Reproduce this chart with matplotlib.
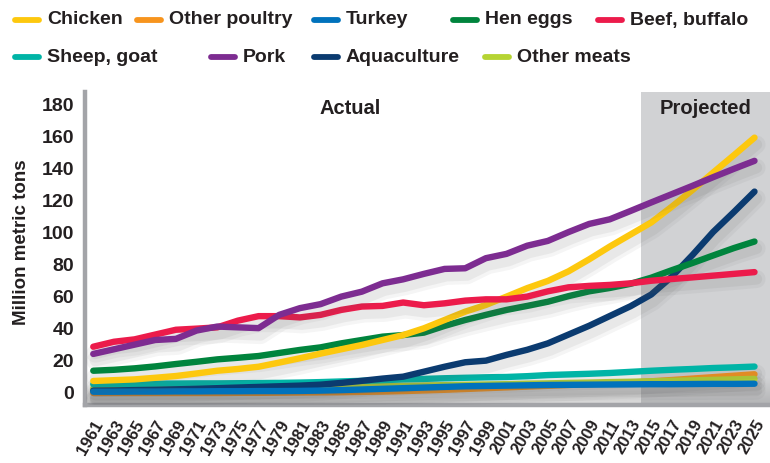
import numpy as np
import matplotlib
matplotlib.use("Agg")
import matplotlib.pyplot as plt
import matplotlib.patheffects as pe
from matplotlib.lines import Line2D

# Production by commodity, million metric tons (odd years, 2015 on projected)
years = list(range(1961, 2026, 2))
chicken = [7.5, 8.0, 8.5, 9.5, 10.6, 12.2, 13.9, 15.0, 16.4, 19.0, 21.7, 24.6, 27.3, 30.0, 33.1, 36.2, 40.4,
           45.6, 50.8, 55.0, 60.2, 65.5, 70.0, 76.0, 83.5, 91.5, 99.0, 106.5, 116.4, 126.8, 137.7, 148.5, 159.5]
other_poultry = [0.0, 0.0, 0.0, 0.0, 0.0, 0.0, 0.0, 0.1, 0.1, 0.2, 0.3, 0.4, 0.5, 0.7, 0.9, 1.2, 1.6,
                 2.0, 2.5, 3.0, 3.5, 4.0, 4.5, 5.0, 5.5, 6.0, 6.5, 7.3, 8.1, 9.0, 9.9, 10.8, 11.7]
turkey = [0.8, 0.8, 0.9, 0.9, 1.0, 1.0, 1.1, 1.1, 1.2, 1.2, 1.3, 1.5, 1.8, 2.2, 2.6, 3.0, 3.4,
          3.8, 4.2, 4.4, 4.6, 4.8, 5.0, 5.1, 5.2, 5.3, 5.4, 5.5, 5.5, 5.6, 5.7, 5.7, 5.8]
hen_eggs = [13.9, 14.5, 15.4, 16.6, 18.1, 19.5, 21.0, 22.0, 23.1, 25.0, 26.9, 28.5, 31.0, 33.1, 35.2, 36.2, 37.7,
            41.9, 45.6, 48.8, 51.9, 54.4, 57.0, 60.5, 63.5, 65.6, 68.2, 72.0, 76.7, 81.2, 85.9, 90.5, 94.6]
beef = [28.9, 32.0, 33.5, 36.5, 39.5, 40.2, 41.0, 45.2, 48.0, 48.0, 47.2, 48.8, 51.9, 54.0, 54.4, 56.5, 54.8,
        56.0, 57.7, 58.5, 58.5, 60.2, 63.5, 66.0, 66.9, 67.5, 68.5, 70.1, 71.2, 72.2, 73.3, 74.4, 75.5]
sheep_goat = [5.5, 5.6, 5.7, 5.8, 5.9, 6.0, 6.0, 6.1, 6.2, 6.3, 6.5, 6.8, 7.2, 7.6, 8.0, 8.5, 8.8,
              9.2, 9.5, 9.8, 10.0, 10.5, 11.2, 11.6, 12.0, 12.5, 13.2, 13.9, 14.5, 15.0, 15.6, 16.0, 16.5]
pork = [24.4, 27.3, 30.2, 33.1, 33.8, 39.0, 41.5, 41.0, 40.5, 48.8, 53.0, 55.5, 60.2, 63.3, 68.5, 71.0, 74.4,
        77.5, 77.9, 84.2, 86.9, 92.0, 95.0, 100.5, 105.6, 108.5, 113.7, 119.0, 124.2, 129.4, 134.8, 140.0, 145.0]
aquaculture = [1.5, 1.6, 1.8, 2.0, 2.3, 2.6, 3.0, 3.4, 3.8, 4.2, 4.6, 5.2, 6.3, 7.6, 9.0, 10.2, 13.3,
               16.4, 19.2, 20.2, 23.8, 27.0, 31.0, 36.5, 42.0, 48.1, 54.2, 61.5, 72.7, 86.2, 100.6, 113.0, 125.8]
other_meats = [3.0, 3.0, 3.1, 3.2, 3.2, 3.3, 3.4, 3.5, 3.6, 3.7, 3.8, 3.9, 4.0, 4.2, 4.4, 4.5, 4.7,
               4.9, 5.1, 5.3, 5.5, 5.8, 6.0, 6.3, 6.5, 6.8, 7.0, 7.3, 7.6, 7.9, 8.2, 8.5, 8.8]

series = {
    "Chicken": (chicken, "#fdc80e"),
    "Other poultry": (other_poultry, "#f7941d"),
    "Turkey": (turkey, "#0072bc"),
    "Hen eggs": (hen_eggs, "#00843d"),
    "Beef, buffalo": (beef, "#ec1b4b"),
    "Sheep, goat": (sheep_goat, "#00b4a6"),
    "Pork": (pork, "#7d2c91"),
    "Aquaculture": (aquaculture, "#0b3b70"),
    "Other meats": (other_meats, "#b6d433"),
}
draw_order = ["Other poultry", "Other meats", "Sheep, goat", "Aquaculture", "Turkey",
              "Hen eggs", "Chicken", "Beef, buffalo", "Pork"]

font = ["Liberation Sans", "DejaVu Sans"]
ink = "#231f20"

fig = plt.figure(figsize=(7.7, 4.63), dpi=100)
ax = fig.add_axes([85 / 770, 58 / 463, 685 / 770, 313 / 463])
ax.set_xlim(1960.2, 2026.5)
ax.set_ylim(-7.5, 188)

# projected period
ax.axvspan(2014, 2026.5, color="#d1d2d4", zorder=0, lw=0)

# soft shading along the floor of the plot
grad = np.linspace(0.32, 0, 64).reshape(-1, 1)
ax.imshow(np.dstack([np.full_like(grad, 0.45)] * 3 + [grad]), extent=[1960.2, 2026.5, -7.5, 9],
          origin="lower", aspect="auto", zorder=0.5, interpolation="bilinear")

shadow = [pe.SimpleLineShadow(offset=(1.5, -5), shadow_color="0.35", alpha=0.06, linewidth=13),
          pe.SimpleLineShadow(offset=(1.5, -5), shadow_color="0.35", alpha=0.08, linewidth=8),
          pe.Normal()]
for name in draw_order:
    vals, col = series[name]
    ax.plot(years, vals, color=col, lw=4.6, solid_capstyle="round", solid_joinstyle="round",
            path_effects=shadow, zorder=3)

for side in ["top", "right"]:
    ax.spines[side].set_visible(False)
for side in ["left", "bottom"]:
    ax.spines[side].set_color("#a3a4a8")
    ax.spines[side].set_linewidth(3.2)

ax.set_yticks(range(0, 181, 20))
ax.set_yticklabels([str(v) for v in range(0, 181, 20)], family=font, fontweight="bold",
                   fontsize=14, color=ink)
ax.set_xticks(years)
ax.set_xticklabels([str(y) for y in years], rotation=60, ha="right", va="top",
                   rotation_mode="anchor", family=font, fontweight="bold", fontsize=12, color=ink)
ax.tick_params(axis="both", length=0)
ax.tick_params(axis="y", pad=8)
ax.tick_params(axis="x", pad=9)

ax.set_ylabel("Million metric tons", family=font, fontweight="bold", fontsize=13.5, color=ink)
ax.yaxis.set_label_coords(-0.08, 0.52)

ax.text(1985.9, 178, "Actual", family=font, fontweight="bold", fontsize=14.5, color=ink,
        ha="center", va="center")
ax.text(2020.3, 178, "Projected", family=font, fontweight="bold", fontsize=14.5, color=ink,
        ha="center", va="center")

# legend laid out in two rows along the top
legend_rows = [
    [("Chicken", 15), ("Other poultry", 137), ("Turkey", 314), ("Hen eggs", 453), ("Beef, buffalo", 598)],
    [("Sheep, goat", 15), ("Pork", 211), ("Aquaculture", 314), ("Other meats", 485)],
]
for row, ypx in zip(legend_rows, [20, 57]):
    yf = 1 - ypx / 463
    for name, xpx in row:
        col = series[name][1]
        fig.add_artist(Line2D([xpx / 770, (xpx + 24) / 770], [yf, yf], color=col, lw=4.2,
                              solid_capstyle="round", transform=fig.transFigure))
        fig.text((xpx + 32) / 770, yf, name, family=font, fontweight="bold", fontsize=14,
                 color=ink, ha="left", va="center")

fig.savefig("out.png", dpi=100)
